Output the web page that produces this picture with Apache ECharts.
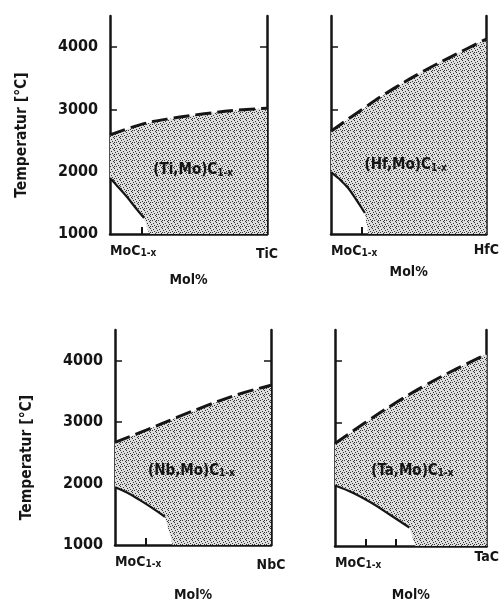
<!DOCTYPE html>
<html>
<head>
<meta charset="utf-8">
<script src="https://cdn.jsdelivr.net/npm/echarts@6/dist/echarts.min.js"></script>
<style>
html,body{margin:0;padding:0;background:#fff;}
#chart{width:502px;height:603px;}
</style>
</head>
<body>
<div id="chart"></div>
<script>
// ---- data ----
const tempTicks = [1000, 2000, 3000, 4000];
const tempInnerTicks = [2000, 3000, 4000];
const molTicks = [20, 40, 60, 80];
const startMember = 'MoC';
const endMembers = ['TiC', 'HfC', 'NbC', 'TaC'];
const phaseNames = ['(Ti,Mo)C', '(Hf,Mo)C', '(Nb,Mo)C', '(Ta,Mo)C'];
const yTitle = 'Temperatur [°C]';
const xTitle = 'Mol%';

// upper (dashed) boundary, sampled at these mol%
const upperX = [0, 20, 40, 60, 80, 100];
const tiUpperT = [2590, 2760, 2860, 2930, 2985, 3020];
const hfUpperT = [2650, 3000, 3330, 3620, 3880, 4130];
const nbUpperT = [2670, 2870, 3080, 3280, 3460, 3600];
const taUpperT = [2660, 3000, 3320, 3610, 3870, 4110];

// lower solid curve (MoC-side)
const tiLowerX = [0, 5, 11, 16, 21.7];
const tiLowerT = [1900, 1760, 1590, 1430, 1257];
const hfLowerX = [0, 5, 11, 16, 21.8];
const hfLowerT = [1995, 1890, 1738, 1560, 1337];
const nbLowerX = [0, 8, 16, 24, 32];
const nbLowerT = [1940, 1850, 1730, 1600, 1460];
const taLowerX = [0, 12, 24, 36, 49];
const taLowerT = [1980, 1860, 1700, 1510, 1300];

// where the shaded field meets the 1000 °C axis
const fieldFootX = [25, 24, 37, 53];
// label anchors (mol%, °C)
const labelX = [53, 48, 49, 51];
const labelT = [2060, 2140, 2240, 2260];

const upperT = [tiUpperT, hfUpperT, nbUpperT, taUpperT];
const lowerX = [tiLowerX, hfLowerX, nbLowerX, taLowerX];
const lowerT = [tiLowerT, hfLowerT, nbLowerT, taLowerT];

// ---- layout / style ----
const grids = [
  {left: 110, top: 16, width: 157, height: 218},
  {left: 331, top: 16, width: 156, height: 218},
  {left: 115, top: 330, width: 156, height: 221},
  {left: 335, top: 330, width: 157, height: 219}
];
const FONT = "'Liberation Sans Narrow', 'DejaVu Sans Condensed', sans-serif";
const INK = '#151515';
const minPad = [12, 6, 7, 6];
const maxPad = [9, 5, 9, 0];
const xNameGap = [39, 31, 43, 42];

function makePattern() {
  const c = document.createElement('canvas');
  c.width = 6; c.height = 6;
  const g = c.getContext('2d');
  g.fillStyle = '#dedede';
  g.fillRect(0, 0, 6, 6);
  g.fillStyle = '#333333';
  [[0, 0], [3, 1], [1, 2], [4, 3], [2, 4], [5, 5], [0, 4]].forEach(p => g.fillRect(p[0], p[1], 1, 1));
  return c;
}
const pattern = {image: makePattern(), repeat: 'repeat'};

const rich = {
  m: {fontFamily: FONT, fontWeight: 'bold', fontSize: 15, color: INK, lineHeight: 20, verticalAlign: 'bottom',
      textBorderWidth: 0, opacity: 1},
  s: {fontFamily: FONT, fontWeight: 'bold', fontSize: 10, color: INK, lineHeight: 11, verticalAlign: 'bottom',
      textBorderWidth: 0, opacity: 1}
};

const xAxes = [], yAxes = [], series = [];
grids.forEach((gd, i) => {
  const leftCol = (i % 2 === 0);
  xAxes.push({
    type: 'value', gridIndex: i, min: 0, max: 100, interval: 20,
    axisLine: {show: true, lineStyle: {color: INK, width: 2.5}},
    axisTick: {show: true, inside: true, length: 7, customValues: molTicks, lineStyle: {color: INK, width: 2}},
    splitLine: {show: false},
    axisLabel: {
      show: true, customValues: [0, 100], margin: 4,
      alignMinLabel: 'left', alignMaxLabel: 'center',
      formatter: v => v === 0 ? '{m|' + startMember + '}{s|1-x}' : '{e|' + endMembers[i] + '}',
      rich: Object.assign({}, rich, {
        m: Object.assign({}, rich.m, {fontSize: 14, padding: [minPad[i], 0, 0, 0]}),
        e: {fontFamily: FONT, fontWeight: 'bold', fontSize: 14, color: INK, padding: [maxPad[i], 0, 0, 0]}
      })
    },
    name: xTitle, nameLocation: 'middle', nameGap: xNameGap[i],
    nameTextStyle: {fontFamily: FONT, fontWeight: 'bold', fontSize: 14, color: INK}
  });
  yAxes.push({
    type: 'value', gridIndex: i, min: 1000, max: 4500, interval: 1000, position: 'left',
    axisLine: {show: true, lineStyle: {color: INK, width: 2.5}},
    axisTick: {show: true, inside: true, length: 7, customValues: tempInnerTicks, lineStyle: {color: INK, width: 1.5}},
    splitLine: {show: false},
    axisLabel: {show: leftCol, customValues: tempTicks, margin: 12, formatter: v => String(v),
      fontFamily: FONT, fontWeight: 'bold', fontSize: 16, color: INK},
    name: leftCol ? yTitle : '', nameLocation: 'middle', nameGap: 80, nameRotate: 90,
    nameTextStyle: {fontFamily: FONT, fontWeight: 'bold', fontSize: 15.5, color: INK, padding: [0, i === 0 ? 20 : 40, 0, 0]}
  });
  yAxes.push({
    type: 'value', gridIndex: i, min: 1000, max: 4500, interval: 1000, position: 'right',
    axisLine: {show: true, lineStyle: {color: INK, width: 2.5}},
    axisTick: {show: true, inside: true, length: 7, customValues: tempInnerTicks, lineStyle: {color: INK, width: 1.5}},
    splitLine: {show: false},
    axisLabel: {show: false}
  });

  // shaded single-phase field polygon
  const poly = [];
  upperX.forEach((x, k) => poly.push([x, upperT[i][k]]));
  poly.push([100, 1000]);
  poly.push([fieldFootX[i], 1000]);
  for (let k = lowerX[i].length - 1; k >= 0; k--) poly.push([lowerX[i][k], lowerT[i][k]]);

  series.push({
    type: 'custom', xAxisIndex: i, yAxisIndex: 2 * i, silent: true, z: 1,
    data: [[0, 1000]],
    renderItem: (params, api) => ({
      type: 'polygon',
      shape: {points: poly.map(p => api.coord(p))},
      style: {fill: pattern, stroke: null}
    })
  });
  series.push({
    type: 'line', xAxisIndex: i, yAxisIndex: 2 * i, silent: true, z: 3,
    data: upperX.map((x, k) => [x, upperT[i][k]]),
    smooth: 0.4, symbol: 'none',
    lineStyle: {color: INK, width: 3, type: [16, 6], cap: 'butt'}
  });
  series.push({
    type: 'line', xAxisIndex: i, yAxisIndex: 2 * i, silent: true, z: 3,
    data: lowerX[i].map((x, k) => [x, lowerT[i][k]]),
    smooth: 0.4, symbol: 'none',
    lineStyle: {color: INK, width: 2.2}
  });
  series.push({
    type: 'scatter', xAxisIndex: i, yAxisIndex: 2 * i, silent: true, z: 4,
    data: [[labelX[i], labelT[i]]],
    symbolSize: 1, itemStyle: {color: INK, opacity: 1},
    label: {show: true, position: 'inside', color: INK, textBorderWidth: 0, opacity: 1,
      formatter: '{m|' + phaseNames[i] + '}{s|1-x}', rich: rich}
  });
});

const chart = echarts.init(document.getElementById('chart'), null, {renderer: 'canvas'});
chart.setOption({
  animation: false,
  backgroundColor: '#ffffff',
  grid: grids,
  xAxis: xAxes,
  yAxis: yAxes,
  series: series
});
</script>
</body>
</html>
